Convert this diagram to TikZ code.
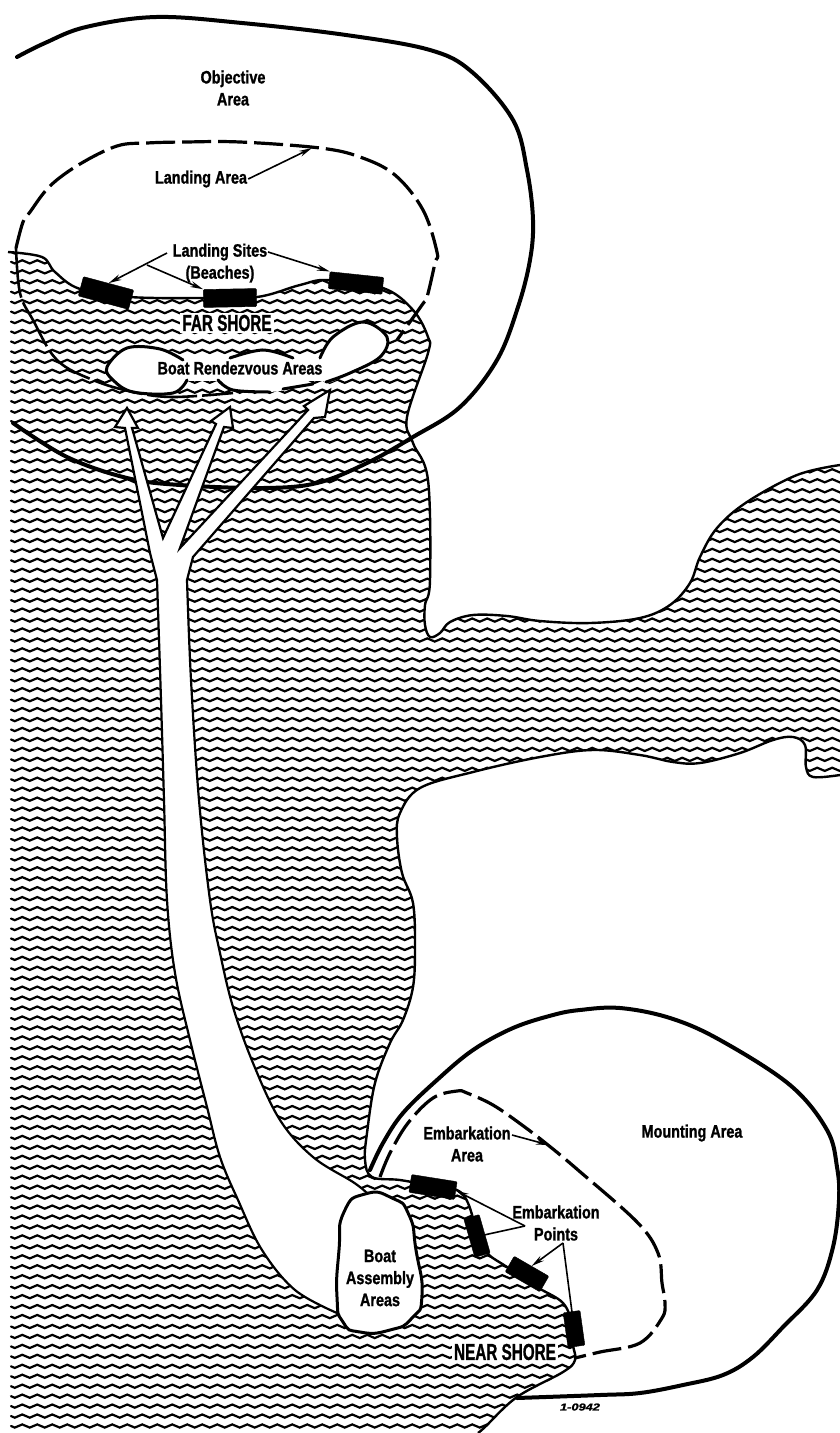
\documentclass[tikz,border=0pt]{standalone}
\usepackage{graphicx}
\usepackage{fontspec}
\setmainfont{Liberation Sans}[FakeStretch=0.8,FakeBold=1.2]
\usetikzlibrary{arrows.meta}
\tikzset{
  lab/.style={font=\fontsize{18}{22}\selectfont\bfseries,align=center,inner sep=1pt},
  shorelab/.style={font=\fontsize{23}{23}\selectfont\bfseries,fill=white,inner sep=2pt},
  wave/.style={line width=2.2pt,line cap=round},
  coast/.style={line width=2.4pt,line join=round},
  heavy/.style={line width=4pt,line cap=round},
  medium/.style={line width=3pt,line cap=round},
  dashline/.style={line width=3.2pt,dash pattern=on 29pt off 7pt},
  beach/.style={fill=black,draw=black,inner sep=0pt,rounded corners=1pt},
  lead/.style={-{Stealth[length=13pt,width=6pt]},line width=1.6pt},
  smoothp/.style={smooth,tension=0.6}
}
\def\upperA{(8,252)(42,257)(55,272)(80,289)(130,297)(200,298)(257,297)(300,285)(328,280)(383,288)(413,310)(428,337)(428,353)(407,417)(413,443)(428,480)(430,580)(425,605)(425,625)(430,637)(440,633)(450,622)(473,615)(507,616)(540,621)(590,623)(640,618)(670,605)(690,583)(700,557)(717,528)(747,502)(797,475)(840,465)}
\def\lowerA{(840,775)(813,777)(806,767)(805,745)(793,737)(773,740)(740,753)(700,763)(673,762)(640,755)(593,750)(540,757)(473,772)(420,788)(400,813)(397,837)(402,873)(413,903)(415,947)(413,987)(403,1020)(390,1043)(375,1083)(367,1133)(365,1160)(372,1177)(400,1180)(433,1186)(457,1190)(468,1203)(478,1235)(487,1253)(507,1267)(537,1287)(563,1303)(572,1325)(573,1345)(575,1360)(563,1372)(517,1397)(485,1427)(478,1433)}
\def\chanL{(337,1313)(295,1290)(262,1250)(238,1200)(220,1157)(207,1107)(190,1040)(175,973)(167,900)(164,800)(161,700)(157,580)}
\def\chanR{(187,580)(191,680)(199,800)(210,900)(220,953)(233,1007)(253,1063)(280,1120)(313,1157)(353,1182)(367,1193)}
\begin{document}
\begin{tikzpicture}[x=1pt,y=-1pt]
\useasboundingbox (0,0) rectangle (840,1433);
\fill[white] (0,0) rectangle (840,1433);
\gdef\rowpath{}
\foreach \i in {0,...,56}{\xdef\rowpath{\rowpath sin ++(3.75,1.6) cos ++(3.75,-1.6) sin ++(3.75,-1.6) cos ++(3.75,1.6)}}
% water
\begin{scope}
\clip plot[smoothp] coordinates {\upperA} -- (850,465) -- (850,775) -- plot[smoothp] coordinates {\lowerA} -- (0,1433) -- (0,252) -- cycle;
\foreach \r in {0,...,120}{\draw[wave] (11,{1426-9.95*\r}) \rowpath;}
\end{scope}
% objective area boundary
\draw[heavy] plot[smoothp] coordinates {(17,57)(45,43)(86,27)(156,17)(242,23)(346,35)(430,50)(472,72)(513,120)(527,170)(533,220)(530,260)(518,307)(497,360)(460,407)(413,437)(367,463)(317,483)(263,488)(180,485)(127,478)(67,457)(13,423)};
% channel with three arrows
\draw[fill=white,line width=2.2pt,line join=miter]
  plot[smoothp] coordinates {\chanL} -- (150,553) -- (125,428) -- (115,427) -- (127,408) -- (138,428) -- (132,428) -- (163,538) -- (216,424) -- (211,421) -- (230,407) -- (233,428) -- (224,427) -- (180,548) -- (308,410) -- (304,406) -- (330,390) -- (325,417) -- (314,418) -- (193,557) -- plot[smoothp] coordinates {\chanR};
% rendezvous areas
\fill[white] plot[smooth cycle,tension=0.7] coordinates {(107,367)(127,348)(160,348)(187,362)(187,380)(173,393)(133,392)(113,380)};
\fill[white] plot[smooth cycle,tension=0.7] coordinates {(218,378)(233,390)(270,392)(300,385)(325,370)(293,358)(263,350)(230,358)(200,365)};
\fill[white] plot[smooth cycle,tension=0.7] coordinates {(320,360)(333,337)(363,322)(387,337)(380,357)(350,373)(325,382)};
\fill[white] (155,358) rectangle (326,381);
\draw[medium] plot[smoothp] coordinates {(183,360)(160,349)(127,348)(107,367)(113,380)(133,392)(173,393)(187,380)};
\draw[medium] plot[smoothp] coordinates {(230,358)(263,350)(293,358)};
\draw[medium] plot[smoothp] coordinates {(218,380)(233,390)(270,392)};
\draw[medium] (283,389) -- (313,384);
\draw[medium] plot[smoothp] coordinates {(320,358)(333,337)(363,322)(387,337)(380,357)(350,373)(326,382)};
% coast
\draw[coast] plot[smoothp] coordinates {\upperA};
\draw[coast] plot[smoothp] coordinates {\lowerA};
% landing area
\draw[dashline] plot[smoothp] coordinates {(16,248)(23,222)(30,212)(50,186)(80,164)(117,146)(147,143)(185,142)(240,142)(320,148)(360,157)(395,175)(423,210)(437,252)(435,263)(427,297)(422,305)(397,340)};
\draw[line width=2.6pt,dash pattern=on 50pt off 5pt] plot[smoothp] coordinates {(16,248)(20,293)(33,320)(57,360)(93,380)(133,392)(173,397)(233,393)};
% mounting area
\draw[heavy] plot[smoothp] coordinates {(370,1170)(383,1143)(403,1113)(437,1080)(473,1050)(513,1028)(553,1015)(580,1010)(620,1008)(670,1018)(720,1040)(790,1085)(827,1130)(837,1167)(839,1200)(833,1247)(817,1290)(783,1327)(753,1357)(723,1375)(683,1385)(640,1393)(600,1395)(517,1398)};
% embarkation area
\draw[dashline] plot[smoothp] coordinates {(380,1177)(390,1153)(408,1123)(433,1098)(457,1091)(467,1093)(493,1105)(522,1125)(548,1145)(578,1170)(637,1222)(658,1253)(662,1283)(665,1303)(662,1318)(640,1343)(600,1352)(575,1358)};
% assembly area
\draw[medium,fill=white] plot[smooth cycle,tension=1] coordinates {(365,1194)(392,1198)(409,1215)(416,1250)(422,1295)(412,1318)(390,1330)(360,1332)(343,1322)(337,1297)(339,1250)(344,1212)};
% beaches
\node[beach,minimum width=52pt,minimum height=20pt,rotate=-15] (b1) at (106,293) {};
\node[beach,minimum width=53pt,minimum height=18pt,rotate=1] (b2) at (230,298) {};
\node[beach,minimum width=54pt,minimum height=17pt,rotate=-6] (b3) at (356,283) {};
\node[beach,minimum width=46pt,minimum height=18pt,rotate=-9] (n1) at (433,1187) {};
\node[beach,minimum width=40pt,minimum height=16pt,rotate=-74] (n2) at (477,1236) {};
\node[beach,minimum width=40pt,minimum height=18pt,rotate=-30] (n3) at (527,1274) {};
\node[beach,minimum width=35pt,minimum height=17pt,rotate=-82] (n4) at (574,1329) {};
% labels
\node[lab] (oa) at (233,88) {Objective\\Area};
\node[lab] (la) at (201,179) {Landing Area};
\node[lab] (ls) at (220,263) {Landing Sites\\(Beaches)};
\node[shorelab] (fs) at (227,323) {\scalebox{0.83}[1]{FAR SHORE}};
\node[lab] (br) at (240,368) {Boat Rendezvous Areas};
\node[lab] (ea) at (467,1144) {Embarkation\\Area};
\node[lab] (ma) at (692,1133) {Mounting Area};
\node[lab] (ep) at (556,1223) {Embarkation\\Points};
\node[lab] (ba) at (380,1278) {Boat\\Assembly\\Areas};
\node[shorelab] (ns) at (505,1352) {\scalebox{0.83}[1]{NEAR SHORE}};
\node[font=\fontsize{10}{10}\selectfont\bfseries\itshape,inner sep=0pt] (id) at (580,1407) {\scalebox{1.6}[1]{1-0942}};
% leaders
\coordinate (laT) at (312,148);
\coordinate (eaS) at (512,1135);
\coordinate (eaT) at (549,1145);
\coordinate (lsL) at (167,253);
\coordinate (lsB) at (147,265);
\coordinate (lsR) at (268,252);
\coordinate (epL) at (525,1226);
\coordinate (epR) at (563,1243);
\draw[lead] (la.east) -- (laT);
\draw[lead] (lsL) -- (b1.north);
\draw[lead] (lsB) -- (b2.north west);
\draw[lead] (lsR) -- (b3.north west);
\draw[lead] (eaS) -- (eaT);
\draw[lead] (epL) -- (n1.east);
\draw[lead] (epL) -- (n2.south);
\draw[lead] (epR) -- (n3.north);
\draw[lead] (epR) -- (n4.east);
\end{tikzpicture}
\end{document}
